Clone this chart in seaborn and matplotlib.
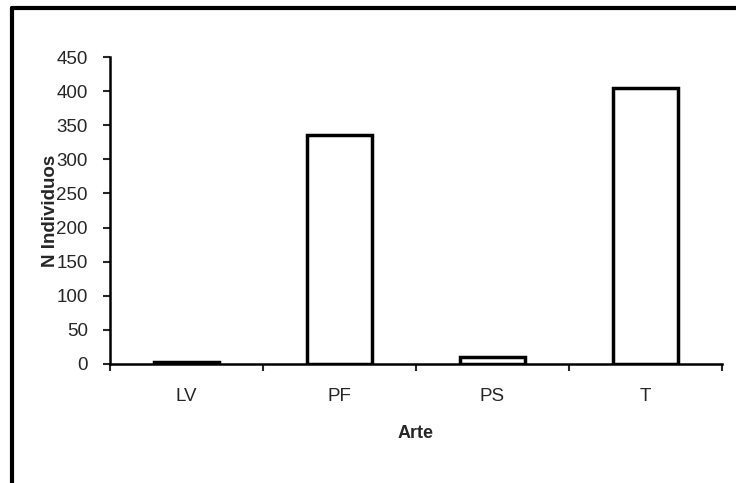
import matplotlib
matplotlib.use("Agg")
import matplotlib.pyplot as plt
from matplotlib.lines import Line2D
import seaborn as sns
import pandas as pd
import numpy as np

categories = ["LV", "PF", "PS", "T"]
values = [3, 335, 10, 404]
yticks = [0, 50, 100, 150, 200, 250, 300, 350, 400, 450]

sns.set_style("white")
plt.rcParams['font.family'] = ['Liberation Sans', 'DejaVu Sans']

df = pd.DataFrame({"Arte": categories, "N": values})

fig = plt.figure(figsize=(7.36, 4.83), dpi=100)
ax = fig.add_axes([110/736, 1-364/483, (722-110)/736, (364-57)/483])

sns.barplot(data=df, x="Arte", y="N", ax=ax, width=0.42, color="white",
            edgecolor="black", linewidth=2.5, saturation=1)

ax.set_xlim(-0.5, 3.5)
ax.set_ylim(0, 450)
ax.set_yticks(yticks)
ax.set_yticklabels([str(v) for v in yticks], fontsize=13.5)
ax.set_xticks(range(len(categories)))
ax.set_xticklabels(categories, fontsize=13.5)
ax.set_xticks(np.arange(-0.5, len(categories), 1.0), minor=True)
ax.tick_params(axis="x", which="major", length=0, pad=17)
ax.tick_params(axis="x", which="minor", length=5, width=1.5, direction="out", bottom=True)
ax.tick_params(axis="y", length=5, width=1.5, direction="out", left=True, pad=11)

for s in ["top", "right"]:
    ax.spines[s].set_visible(False)
for s in ["left", "bottom"]:
    ax.spines[s].set_linewidth(1.8)
    ax.spines[s].set_color("black")

ax.set_xlabel("Arte", fontsize=13, fontweight="bold")
ax.xaxis.set_label_coords(0.5, -0.199)
ax.set_ylabel("N Individuos", fontsize=13.5, fontweight="bold")
ax.yaxis.set_label_coords(-0.084, 0.5)

# figure frame
fig.add_artist(Line2D([12/736, 1.0], [1-8/483, 1-8/483], transform=fig.transFigure,
                      color="black", linewidth=3))
fig.add_artist(Line2D([12/736, 12/736], [1-8/483, 0.0], transform=fig.transFigure,
                      color="black", linewidth=3))

fig.savefig("out.png", dpi=100, facecolor="white")
